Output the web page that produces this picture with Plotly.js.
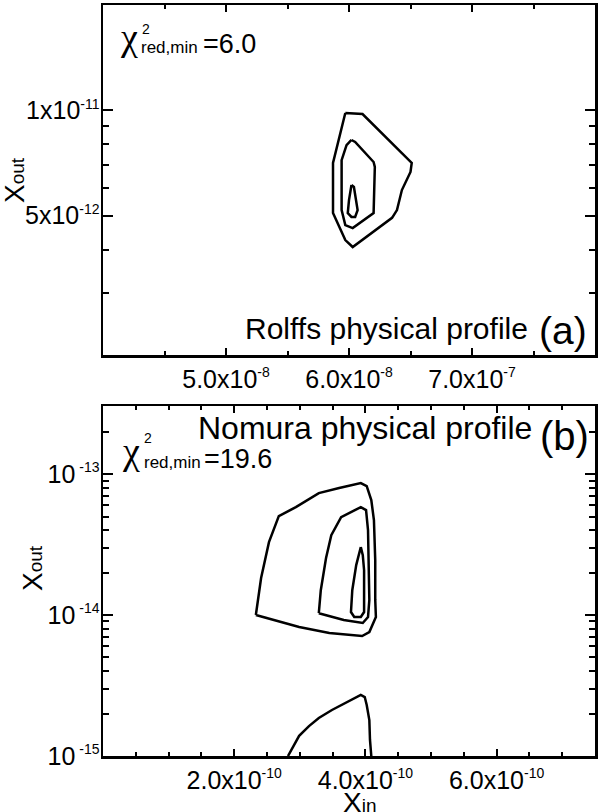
<!DOCTYPE html>
<html>
<head>
<meta charset="utf-8">
<script src="https://cdn.plot.ly/plotly-3.0.1.min.js"></script>
<style>
  html, body { margin: 0; padding: 0; background: #fff; }
  #chart { width: 600px; height: 812px; }
</style>
</head>
<body>
<div id="chart"></div>
<script>
// Two chi-square contour panels: (a) Rolffs profile, (b) Nomura profile.

// --- panel (a): Rolffs physical profile -------------------------------------
const aOuterX = [5.97e-8, 6.11e-8, 6.51e-8, 6.50e-8, 6.43e-8, 6.39e-8, 6.35e-8, 6.03e-8, 5.97e-8, 5.87e-8, 5.87e-8, 5.90e-8, 5.97e-8];
const aOuterY = [9.83e-12, 9.76e-12, 7.08e-12, 6.67e-12, 5.92e-12, 5.19e-12, 4.93e-12, 4.07e-12, 4.26e-12, 5.09e-12, 7.08e-12, 7.86e-12, 9.83e-12];
const aMidX = [6.02e-8, 6.05e-8, 6.20e-8, 6.21e-8, 6.20e-8, 6.03e-8, 5.97e-8, 5.94e-8, 5.94e-8, 5.98e-8, 6.02e-8];
const aMidY = [8.23e-12, 8.12e-12, 7.12e-12, 6.89e-12, 5.09e-12, 4.61e-12, 4.70e-12, 5.19e-12, 7.21e-12, 7.96e-12, 8.23e-12];
const aInnerX = [6.02e-8, 6.04e-8, 6.07e-8, 6.05e-8, 6.02e-8, 5.99e-8, 6.00e-8, 6.02e-8];
const aInnerY = [6.12e-12, 6.04e-12, 5.19e-12, 4.96e-12, 4.96e-12, 5.09e-12, 5.54e-12, 6.12e-12];

const aXTickVals = [5e-8, 6e-8, 7e-8];
const aXTickText = ['5.0x10<sup><span style="font-size:14px">-8</span></sup>', '6.0x10<sup><span style="font-size:14px">-8</span></sup>', '7.0x10<sup><span style="font-size:14px">-7</span></sup>'];
const aXMinor = [4.5e-8, 5.5e-8, 6.5e-8, 7.5e-8];
const aYTickVals = [5e-12, 1e-11];
const aYTickText = ['5x10<sup><span style="font-size:14px">-12</span></sup>', '1x10<sup><span style="font-size:14px">-11</span></sup>'];
const aYMinor = [3e-12, 4e-12, 6e-12, 7e-12, 8e-12, 9e-12];
const aXRange = [4e-8, 8e-8];
const aYRange = [2e-12, 2e-11];

// --- panel (b): Nomura physical profile -------------------------------------
const bOuterX = [2.33e-10, 2.41e-10, 2.53e-10, 2.68e-10, 2.94e-10, 3.29e-10, 3.60e-10, 3.93e-10, 4.02e-10, 4.09e-10, 4.13e-10, 4.15e-10, 4.15e-10, 4.16e-10, 4.06e-10, 3.95e-10, 3.45e-10, 2.99e-10, 2.33e-10];
const bOuterY = [1.00e-14, 1.83e-14, 3.29e-14, 5.04e-14, 5.83e-14, 7.33e-14, 7.96e-14, 8.63e-14, 8.22e-14, 6.54e-14, 4.72e-14, 2.45e-14, 1.28e-14, 9.68e-15, 7.58e-15, 7.10e-15, 7.45e-15, 8.22e-15, 1.00e-14];
const bMidX = [3.29e-10, 3.32e-10, 3.40e-10, 3.48e-10, 3.63e-10, 3.93e-10, 4.01e-10, 4.04e-10, 4.06e-10, 4.04e-10, 3.96e-10, 3.67e-10, 3.29e-10];
const bMidY = [1.03e-14, 1.50e-14, 2.54e-14, 3.69e-14, 4.95e-14, 5.83e-14, 5.55e-14, 4.01e-14, 1.28e-14, 9.68e-15, 8.78e-15, 9.21e-15, 1.03e-14];
const bInnerX = [3.93e-10, 3.86e-10, 3.80e-10, 3.78e-10, 3.83e-10, 3.93e-10, 3.98e-10, 3.98e-10, 3.96e-10, 3.93e-10];
const bInnerY = [3.04e-14, 2.26e-14, 1.50e-14, 1.05e-14, 9.68e-15, 9.68e-15, 1.05e-14, 2.08e-14, 2.66e-14, 3.04e-14];
const bLowX = [2.82e-10, 2.90e-10, 2.99e-10, 3.14e-10, 3.29e-10, 3.49e-10, 3.70e-10, 3.93e-10, 3.99e-10, 4.02e-10, 4.06e-10, 4.07e-10, 4.09e-10];
const bLowY = [1.00e-15, 1.18e-15, 1.39e-15, 1.63e-15, 1.86e-15, 2.12e-15, 2.38e-15, 2.71e-15, 2.62e-15, 2.30e-15, 1.80e-15, 1.30e-15, 1.00e-15];

const bXTickVals = [2e-10, 4e-10, 6e-10];
const bXTickText = ['2.0x10<sup><span style="font-size:14px">-10</span></sup>', '4.0x10<sup><span style="font-size:14px">-10</span></sup>', '6.0x10<sup><span style="font-size:14px">-10</span></sup>'];
const bXMinor = [0.5e-10, 1e-10, 1.5e-10, 2.5e-10, 3e-10, 3.5e-10, 4.5e-10, 5e-10, 5.5e-10, 6.5e-10, 7e-10];
const bYTickVals = [1e-15, 1e-14, 1e-13];
const bYTickText = ['10<sup><span style="font-size:14px"> -15</span></sup>', '10<sup><span style="font-size:14px"> -14</span></sup>', '10<sup><span style="font-size:14px"> -13</span></sup>'];
const bYMinor = [2e-15, 3e-15, 4e-15, 5e-15, 6e-15, 7e-15, 8e-15, 9e-15, 2e-14, 3e-14, 4e-14, 5e-14, 6e-14, 7e-14, 8e-14, 9e-14, 2e-13];
const bXRange = [0, 7.5e-10];
const bYRange = [1e-15, 3.04e-13];

// --- layout helpers ---------------------------------------------------------
const FONT = 'Liberation Sans, Arial, sans-serif';
const CHI_FONT = 'Liberation Serif, Times New Roman, serif';
const W = 600, H = 812;
const M = { l: 103, r: 5, t: 5, b: 56 };
const px = (x) => (x - M.l) / (W - M.l - M.r);
const py = (y) => (H - M.b - y) / (H - M.t - M.b);

const contour = (x, y, xa, ya) => ({
  x, y, xaxis: xa, yaxis: ya, type: 'scatter', mode: 'lines',
  line: { color: 'black', width: 2.5 }, hoverinfo: 'skip', showlegend: false,
});

const traces = [
  contour(aOuterX, aOuterY, 'x', 'y'),
  contour(aMidX, aMidY, 'x', 'y'),
  contour(aInnerX, aInnerY, 'x', 'y'),
  contour(bOuterX, bOuterY, 'x2', 'y2'),
  contour(bMidX, bMidY, 'x2', 'y2'),
  contour(bInnerX, bInnerY, 'x2', 'y2'),
  contour(bLowX, bLowY, 'x2', 'y2'),
];

function axis(extra, minorVals, len, minorLen) {
  return {
    showline: true, linecolor: 'black', linewidth: 2.5, mirror: 'allticks',
    ticks: 'inside', ticklen: len, tickwidth: 2, tickcolor: 'black',
    showgrid: false, zeroline: false, tickmode: 'array',
    tickfont: { family: FONT, size: 25, color: 'black' },
    minor: { tickmode: 'array', tickvals: minorVals, ticks: 'inside', ticklen: minorLen,
             tickwidth: 2, tickcolor: 'black', showgrid: false },
    ...extra,
  };
}

function label(text, x, y, size, xanchor = 'left', extra = {}, family = FONT) {
  return {
    text, x: px(x), y: py(y), xref: 'paper', yref: 'paper',
    xanchor, yanchor: 'middle', showarrow: false,
    font: { family, size, color: 'black' }, ...extra,
  };
}

const annotations = [
  // panel (a)
  label('χ', 118, 37, 38, 'left', {}, CHI_FONT),
  label('2', 140, 29, 14),
  label('red,min', 139, 48, 17),
  label('=6.0', 201, 44, 27),
  label('Rolffs physical profile', 530, 328, 30, 'right'),
  label('(a)', 589, 330, 39, 'right'),
  label('X<span style="font-size:19px">out</span>', 14, 180, 28, 'center', { textangle: -90 }),
  // panel (b)
  label('χ', 120, 451, 38, 'left', {}, CHI_FONT),
  label('2', 142, 438, 14),
  label('red,min', 142, 462, 17),
  label('=19.6', 202, 459, 27),
  label('Nomura physical profile', 534, 428, 32, 'right'),
  label('(b)', 591, 436, 40, 'right'),
  label('X<span style="font-size:19px">out</span>', 32, 568, 28, 'center', { textangle: -90 }),
  label('X<span style="font-size:19px">in</span>', 359, 802, 28, 'center'),
];

const layout = {
  width: W, height: H, margin: M,
  paper_bgcolor: 'white', plot_bgcolor: 'white',
  font: { family: FONT, color: 'black' },
  showlegend: false,
  xaxis: axis({ domain: [0, 1], anchor: 'y', range: aXRange, tickvals: aXTickVals, ticktext: aXTickText }, aXMinor, 7, 4),
  yaxis: axis({ domain: [py(355), 1], anchor: 'x', type: 'log', range: aYRange.map(Math.log10), tickvals: aYTickVals, ticktext: aYTickText, ticklabelstandoff: -4 }, aYMinor, 10, 6),
  xaxis2: axis({ domain: [0, 1], anchor: 'y2', range: bXRange, tickvals: bXTickVals, ticktext: bXTickText }, bXMinor, 7, 4),
  yaxis2: axis({ domain: [0, py(406)], anchor: 'x2', type: 'log', range: bYRange.map(Math.log10), tickvals: bYTickVals, ticktext: bYTickText, ticklabelstandoff: -4 }, bYMinor, 10, 6),
  annotations,
};

Plotly.newPlot('chart', traces, layout, { staticPlot: true, displayModeBar: false });
</script>
</body>
</html>
